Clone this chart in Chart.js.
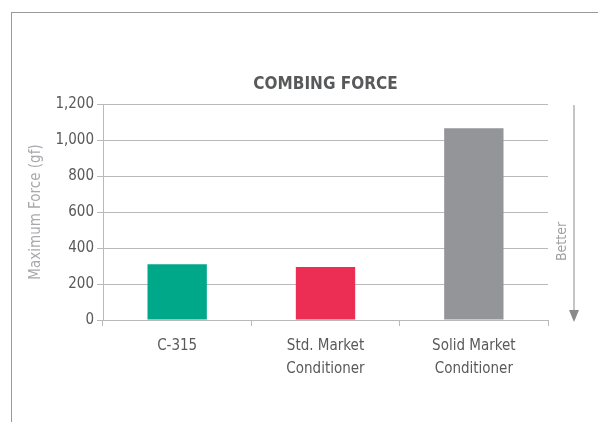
<!DOCTYPE html>
<html>
<head>
<meta charset="utf-8">
<script src="https://cdn.jsdelivr.net/npm/chart.js@4.4.0/dist/chart.umd.min.js"></script>
<style>
  html, body { margin: 0; padding: 0; background: #fff; }
  #wrap { position: relative; width: 598px; height: 422px; }
  #frame { position: absolute; left: 11px; top: 12px; right: 0; bottom: 0;
           border-top: 1px solid #999; border-left: 1px solid #999; }
  canvas { position: absolute; left: 0; top: 0; }
</style>
</head>
<body>
<div id="wrap">
  <div id="frame"></div>
  <canvas id="barChart" width="598" height="422"></canvas>
</div>
<script>
// donnees du graphe
const categories = [['C-315'], ['Std. Market', 'Conditioner'], ['Solid Market', 'Conditioner']];
const forceValues = [310, 295, 1065];
const barColors = ['#00a88a', '#ec2d54', '#939598'];
const yTicks = [0, 200, 400, 600, 800, 1000, 1200];
const chartTitle = 'COMBING FORCE';

const FONT = "'DejaVu Sans Condensed', Roboto, 'Liberation Sans', sans-serif";

// titre centre sur la zone du graphe
const centeredTitle = {
  id: 'centeredTitle',
  afterDraw(chart) {
    const { ctx, chartArea } = chart;
    ctx.save();
    ctx.fillStyle = '#58595b';
    ctx.font = 'bold 17px ' + FONT;
    ctx.textAlign = 'center';
    ctx.textBaseline = 'middle';
    ctx.fillText(chartTitle, (chartArea.left + chartArea.right) / 2, chartArea.top - 19);
    ctx.restore();
  }
};

// fleche "Better" a droite
const betterArrow = {
  id: 'betterArrow',
  afterDraw(chart) {
    const { ctx, chartArea } = chart;
    const x = chartArea.right + 26;
    const top = chartArea.top + 1;
    const bottom = chartArea.bottom + 2;
    ctx.save();
    ctx.strokeStyle = '#8a8a8c';
    ctx.fillStyle = '#8a8a8c';
    ctx.lineWidth = 1;
    ctx.beginPath();
    ctx.moveTo(x, top);
    ctx.lineTo(x, bottom - 8);
    ctx.stroke();
    ctx.beginPath();
    ctx.moveTo(x - 5, bottom - 12);
    ctx.lineTo(x + 5, bottom - 12);
    ctx.lineTo(x, bottom);
    ctx.closePath();
    ctx.fill();
    ctx.translate(x - 12, (top + bottom) / 2 + 28);
    ctx.rotate(-Math.PI / 2);
    ctx.fillStyle = '#a0a0a2';
    ctx.font = '14px ' + FONT;
    ctx.textAlign = 'center';
    ctx.textBaseline = 'middle';
    ctx.fillText('Better', 0, 0);
    ctx.restore();
  }
};

const ctx = document.getElementById('barChart').getContext('2d');
new Chart(ctx, {
  type: 'bar',
  data: {
    labels: categories,
    datasets: [{
      data: forceValues,
      backgroundColor: barColors,
      barPercentage: 0.4,
      categoryPercentage: 1
    }]
  },
  options: {
    responsive: false,
    animation: false,
    layout: { padding: { left: 27, right: 50, top: 104, bottom: 0 } },
    plugins: {
      legend: { display: false },
      tooltip: { enabled: false },
      title: { display: false }
    },
    scales: {
      x: {
        grid: { offset: true, drawOnChartArea: false, color: '#b9b9bd', tickLength: 6 },
        border: { color: '#b9b9bd' },
        ticks: { color: '#58595b', font: { family: FONT, size: 15, lineHeight: 1.5 }, padding: 9 },
        afterFit(scale) { scale.height = 102; }
      },
      y: {
        min: 0,
        max: 1200,
        afterBuildTicks(scale) { scale.ticks = yTicks.map(v => ({ value: v })); },
        grid: { color: '#b9b9bd', tickLength: 6 },
        border: { color: '#b9b9bd' },
        ticks: {
          color: '#58595b',
          font: { family: FONT, size: 15 },
          padding: 3,
          callback: v => v.toLocaleString('en-US')
        },
        title: {
          display: true,
          text: 'Maximum Force (gf)',
          color: '#a7a9ac',
          font: { family: FONT, size: 15 },
          padding: { top: 0, bottom: 6 }
        },
        afterFit(scale) { scale.width = 76; }
      }
    }
  },
  plugins: [centeredTitle, betterArrow]
});
</script>
</body>
</html>
